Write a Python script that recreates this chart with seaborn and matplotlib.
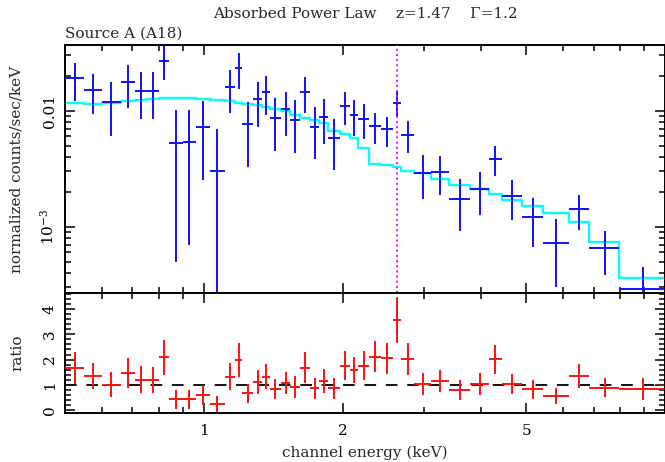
import numpy as np
import pandas as pd
import matplotlib
matplotlib.use("Agg")
import matplotlib.pyplot as plt
import seaborn as sns
from matplotlib.ticker import FixedLocator, FixedFormatter, NullFormatter

# channel bin edges (keV)
bin_edges = [0.50, 0.55, 0.60, 0.66, 0.71, 0.75, 0.80, 0.84, 0.90, 0.96,
             1.03, 1.11, 1.17, 1.21, 1.28, 1.34, 1.39, 1.47, 1.54, 1.62,
             1.70, 1.78, 1.86, 1.97, 2.07, 2.16, 2.28, 2.42, 2.57, 2.68,
             2.85, 3.11, 3.40, 3.78, 4.15, 4.43, 4.89, 5.45, 6.18, 6.85,
             7.95, 9.95]

# normalized counts/sec/keV
counts = [0.0190, 0.0151, 0.0118, 0.0177, 0.0149, 0.0149, 0.0270, 0.0053, 0.0054, 0.0073,
          0.0030, 0.0160, 0.0233, 0.0076, 0.0125, 0.0146, 0.0087, 0.0103, 0.0083, 0.0146,
          0.0073, 0.0089, 0.0058, 0.0110, 0.0092, 0.0085, 0.0074, 0.0069, 0.0117, 0.0062,
          0.00292, 0.00296, 0.00173, 0.00211, 0.00381, 0.00184, 0.00122, 0.00073, 0.00141, 0.00065,
          0.00029]
counts_err = [0.0070, 0.0057, 0.0057, 0.0071, 0.0065, 0.0065, 0.0088, 0.0048, 0.0047, 0.0048,
              0.0040, 0.0065, 0.0080, 0.0043, 0.0052, 0.0054, 0.0042, 0.0043, 0.0040, 0.0050,
              0.0035, 0.0037, 0.0027, 0.0035, 0.0031, 0.0028, 0.0022, 0.0020, 0.0029, 0.0019,
              0.0012, 0.0011, 0.00082, 0.00086, 0.0011, 0.0007, 0.00055, 0.00043, 0.00048, 0.00027,
              0.00016]

# folded model (absorbed power law)
model = [0.0116, 0.0113, 0.0116, 0.0121, 0.0124, 0.0127, 0.0129, 0.0129, 0.0128, 0.0125,
         0.0123, 0.0121, 0.0117, 0.0114, 0.0112, 0.0108, 0.0103, 0.0099, 0.0092, 0.0087,
         0.0083, 0.0078, 0.0067, 0.0063, 0.0058, 0.0048, 0.0035, 0.0034, 0.0033, 0.0030,
         0.0029, 0.0026, 0.0023, 0.0021, 0.0019, 0.0017, 0.0015, 0.0013, 0.0011, 0.00074,
         0.00036]

# data / model ratio
ratio = [1.68, 1.35, 1.00, 1.46, 1.20, 1.19, 2.09, 0.42, 0.42, 0.58,
         0.24, 1.32, 1.97, 0.66, 1.10, 1.32, 0.83, 1.06, 0.91, 1.68,
         0.86, 1.16, 0.86, 1.76, 1.59, 1.76, 2.12, 2.05, 3.57, 2.02,
         1.03, 1.16, 0.79, 1.02, 2.01, 1.03, 0.82, 0.56, 1.36, 0.89,
         0.82]
ratio_err = [0.63, 0.51, 0.50, 0.59, 0.53, 0.52, 0.70, 0.38, 0.38, 0.40,
             0.32, 0.53, 0.67, 0.38, 0.48, 0.50, 0.40, 0.44, 0.45, 0.60,
             0.42, 0.47, 0.42, 0.56, 0.52, 0.58, 0.62, 0.61, 0.92, 0.62,
             0.42, 0.43, 0.38, 0.43, 0.57, 0.40, 0.37, 0.33, 0.47, 0.38,
             0.44]

line_energy = 2.62  # keV, marked line

edges = np.array(bin_edges)
df = pd.DataFrame({
    "energy": (edges[:-1] + edges[1:]) / 2,
    "half_width": (edges[1:] - edges[:-1]) / 2,
    "counts": counts,
    "counts_err": counts_err,
    "ratio": ratio,
    "ratio_err": ratio_err,
})
model_steps = pd.DataFrame({"energy": edges, "model": model + [model[-1]]})

sns.set_theme(style="ticks")
plt.rcParams["font.family"] = ["DejaVu Serif"]
plt.rcParams["mathtext.fontset"] = "dejavuserif"
FS = 11

fig = plt.figure(figsize=(6.65, 4.62), dpi=100)
ax1 = fig.add_axes([65 / 665, 169 / 462, 600 / 665, 248 / 462])
ax2 = fig.add_axes([65 / 665, 49 / 462, 600 / 665, 120 / 462], sharex=ax1)

for ax in (ax1, ax2):
    ax.set_xscale("log")
    for sp in ax.spines.values():
        sp.set_linewidth(1.4)
        sp.set_color("black")
ax1.set_yscale("log")

# upper panel: data crosses + model histogram
ax1.errorbar(df["energy"], df["counts"], xerr=df["half_width"], yerr=df["counts_err"],
             fmt="none", ecolor="#1010ff", elinewidth=1.4, capsize=0, zorder=3)
sns.lineplot(data=model_steps, x="energy", y="model", ax=ax1, color="#00ffff",
             linewidth=1.7, drawstyle="steps-post", estimator=None, sort=False, zorder=2)
ax1.axvline(line_energy, color="#ff00ff", linestyle=":", linewidth=1.4, zorder=4)
ax1.set_ylim(2.68e-4, 0.0368)
ax1.set_xlim(0.5, 10)
ax1.set_xlabel("")
ax1.set_ylabel("")

# lower panel: ratio
ax2.errorbar(df["energy"], df["ratio"], xerr=df["half_width"], yerr=df["ratio_err"],
             fmt="none", ecolor="#ff1010", elinewidth=1.4, capsize=0, zorder=3)
ax2.axhline(1.0, color="#111111", linewidth=1.4, dashes=(6, 5), zorder=2)
ax2.set_ylim(-0.12, 4.64)
ax2.set_xlim(0.5, 10)

# ticks
xmaj = [1, 2, 5]
xmin = [0.5, 0.6, 0.7, 0.8, 0.9, 3, 4, 6, 7, 8, 9]
for ax in (ax1, ax2):
    ax.xaxis.set_major_locator(FixedLocator(xmaj))
    ax.xaxis.set_minor_locator(FixedLocator(xmin))
    ax.xaxis.set_minor_formatter(NullFormatter())
    ax.tick_params(which="both", direction="in", top=True, right=True,
                   width=1.1, color="black", labelsize=FS, labelcolor="black")
    ax.tick_params(which="major", length=7)
    ax.tick_params(which="minor", length=4)
ax1.tick_params(axis="x", labelbottom=False)
ax2.xaxis.set_major_formatter(FixedFormatter(["1", "2", "5"]))
ax2.tick_params(axis="x", pad=8)

ax1.yaxis.set_major_locator(FixedLocator([0.001, 0.01]))
ax1.yaxis.set_major_formatter(FixedFormatter([r"$10^{-3}$", "0.01"]))
ax1.yaxis.set_minor_locator(FixedLocator(
    [k * 1e-4 for k in range(2, 10)] + [k * 1e-3 for k in range(2, 10)] + [k * 1e-2 for k in range(2, 4)]))
ax1.yaxis.set_minor_formatter(NullFormatter())

ax2.yaxis.set_major_locator(FixedLocator([0, 1, 2, 3, 4]))
ax2.yaxis.set_minor_locator(FixedLocator(np.arange(0, 4.61, 0.2)))
for ax in (ax1, ax2):
    for lab in ax.get_yticklabels():
        lab.set_rotation(90)
        lab.set_va("center")
    ax.tick_params(axis="y", pad=6)

# texts
fig.text(365 / 665, 1 - 14 / 462, "Absorbed Power Law    z=1.47    \u0393=1.2",
         ha="center", va="center", fontsize=FS)
fig.text(65 / 665, 1 - 34 / 462, "Source A (A18)", ha="left", va="center", fontsize=FS)
fig.text(17 / 665, 1 - 169 / 462, "normalized counts/sec/keV", rotation=90,
         ha="center", va="center", fontsize=FS)
fig.text(17 / 665, 1 - 353 / 462, "ratio", rotation=90, ha="center", va="center", fontsize=FS)
fig.text(365 / 665, 1 - 453 / 462, "channel energy (keV)", ha="center", va="center", fontsize=FS)

fig.savefig("out.png", dpi=100)
